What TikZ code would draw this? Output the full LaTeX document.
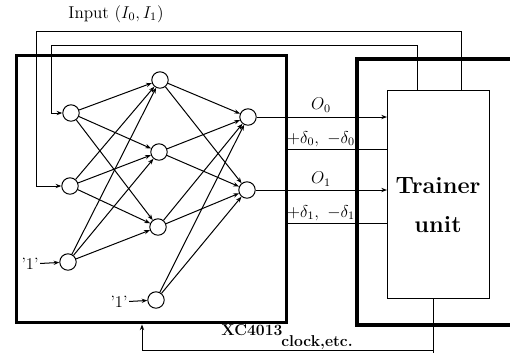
\documentclass[tikz,border=0pt]{standalone}
\usepackage{amsmath}
\usetikzlibrary{arrows.meta, positioning}

\begin{document}
\begin{tikzpicture}[
    x=0.7pt, y=-0.7pt,
    >={Stealth[length=4pt, width=3pt]},
    % neurons and their links
    neuron/.style={circle, draw=black, fill=white, line width=0.7pt, minimum size=11.5pt, inner sep=0pt},
    link/.style={->, line width=0.7pt},
    wire/.style={line width=0.7pt},
    % boards and boxes
    chip/.style={draw=black, line width=2.4pt, inner sep=0pt},
    trainer_box/.style={draw=black, line width=0.7pt, inner sep=0pt},
    % labels
    sig_label/.style={font=\fontsize{11.5}{14}\selectfont, inner sep=1pt},
    bold_label/.style={font=\bfseries\fontsize{11}{13}\selectfont, inner sep=1pt}
]
    \useasboundingbox (0,0) rectangle (510,353);

    % --- 1. BOARDS ---
    \node[chip, anchor=north west, minimum width=189pt, minimum height=186.9pt] (fpga) at (15,54) {};
    \draw[chip] (510,59) -- (357,59) -- (357,325) -- (510,325);
    \node[trainer_box, anchor=north west, minimum width=71.4pt, minimum height=145.6pt] (trainer) at (387,90) {};
    \node[font=\bfseries\fontsize{16.5}{27}\selectfont, align=center] (trainer_text) at (438,205) {Trainer\\unit};

    % --- 2. NEURONS ---
    \node[neuron] (x1) at (71,113) {};
    \node[neuron] (x2) at (70,186) {};
    \node[neuron] (x3) at (68,262) {};
    \node[neuron] (h1) at (160,80) {};
    \node[neuron] (h2) at (159,152) {};
    \node[neuron] (h3) at (158,227) {};
    \node[neuron] (h4) at (156,300) {};
    \node[neuron] (o0) at (248,117) {};
    \node[neuron] (o1) at (247,190) {};

    % --- 3. FULL LINKS ---
    \foreach \i in {1,2,3} {
        \foreach \j in {1,2,3} {
            \draw[link] (x\i) -- (h\j);
        }
    }
    \foreach \j in {1,...,4} {
        \foreach \k in {0,1} {
            \draw[link] (h\j) -- (o\k);
        }
    }

    % bias inputs
    \node[sig_label] (one_a) at (30,264) {'1'};
    \node[sig_label] (one_b) at (119,302) {'1'};
    \draw[link] (one_a) -- (x3);
    \draw[link] (one_b) -- (h4);

    % --- 4. INPUT WIRES FROM THE TRAINER ---
    \coordinate (in_outer) at (461,31);
    \coordinate (in_inner) at (417,45);
    \draw[link] (trainer.north -| in_outer) |- (36,31) |- (x2);
    \draw[link] (trainer.north -| in_inner) |- (51,45) |- (x1);
    \node[sig_label, font=\large] (lab_in) at (116,14) {Input $(I_0, I_1)$};

    % --- 5. OUTPUTS AND ERRORS ---
    \draw[link] (o0) -- (o0 -| trainer.west);
    \draw[link] (o1) -- (o1 -| trainer.west);
    \coordinate (d0) at (330,149);
    \coordinate (d1) at (330,223);
    \draw[wire] (trainer.west |- d0) -- (fpga.east |- d0);
    \draw[wire] (trainer.west |- d1) -- (fpga.east |- d1);
    \node[sig_label] (lab_o0) at (321,105) {$O_0$};
    \node[sig_label] (lab_d0) at (321,139) {$+\delta_0,\ -\delta_0$};
    \node[sig_label] (lab_o1) at (321,179) {$O_1$};
    \node[sig_label] (lab_d1) at (321,213) {$+\delta_1,\ -\delta_1$};

    % --- 6. CLOCK ---
    \coordinate (clk_r) at (433,350);
    \coordinate (clk_l) at (142,350);
    \draw[wire] (trainer.south -| clk_r) -- (433,353);
    \draw[link] (clk_r) -- (clk_l) -- (clk_l |- fpga.south);
    \node[bold_label] (lab_chip) at (252,330) {XC4013};
    \node[bold_label] (lab_clk) at (317,343) {clock,etc.};

\end{tikzpicture}
\end{document}
